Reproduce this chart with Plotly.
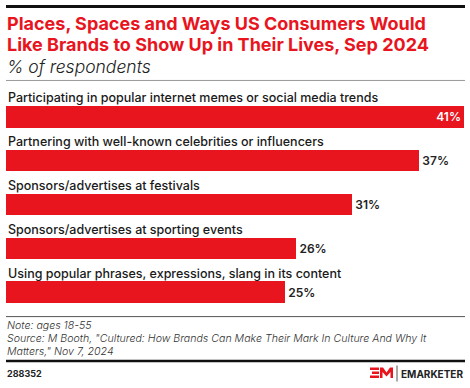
import plotly.graph_objects as go

categories = [
    "Participating in popular internet memes or social media trends",
    "Partnering with well-known celebrities or influencers",
    "Sponsors/advertises at festivals",
    "Sponsors/advertises at sporting events",
    "Using popular phrases, expressions, slang in its content",
]
values = [41, 37, 31, 26, 25]
value_labels = ["41%", "37%", "31%", "26%", "25%"]

title_lines = ["Places, Spaces and Ways US Consumers Would",
               "Like Brands to Show Up in Their Lives, Sep 2024"]
subtitle = "% of respondents"
note = "Note: ages 18-55"
source_lines = ['Source: M Booth, "Cultured: How Brands Can Make Their Mark In Culture And Why It',
                'Matters," Nov 7, 2024']
chart_id = "288352"

W, H = 470, 388
RED = "#e8141e"
FONT = "Inter"

# plot area in pixels
PL, PR = 6, 464
PT, PB = 95.06, 314.4

ypos = list(range(len(categories)))
positions = ["inside" if v == max(values) else "outside" for v in values]
text_colors = ["white" if p == "inside" else "#222222" for p in positions]

fig = go.Figure()
fig.add_trace(go.Bar(
    x=values, y=ypos, orientation="h",
    marker=dict(color=RED, line=dict(width=0)),
    width=0.49,
    text=value_labels, textposition=positions,
    insidetextanchor="end",
    textfont=dict(family=FONT, size=12, color=text_colors, weight=600),
    cliponaxis=False, hoverinfo="skip",
))

fig.update_layout(
    width=W, height=H,
    margin=dict(l=PL, r=W - PR, t=PT, b=H - PB, pad=0),
    paper_bgcolor="white", plot_bgcolor="white",
    showlegend=False, bargap=0,
    xaxis=dict(range=[0, 41], visible=False, fixedrange=True),
    yaxis=dict(range=[4.5, -0.5], visible=False, fixedrange=True),
    font=dict(family=FONT),
)

def fx(px):
    return (px - PL) / (PR - PL)

def fy(py):
    return (PB - py) / (PB - PT)

anns = []
for i, c in enumerate(categories):
    anns.append(dict(x=0, y=i - 0.435, xref="x", yref="y", text=c, showarrow=False,
                     xanchor="left", yanchor="middle",
                     font=dict(family=FONT, size=12.5, color="#1a1a1a", weight=500)))

def ptext(x, y, text, size, color, weight=400, style="normal", xanchor="left"):
    anns.append(dict(x=fx(x), y=fy(y), xref="paper", yref="paper", text=text,
                     showarrow=False, xanchor=xanchor, yanchor="middle",
                     font=dict(family=FONT, size=size, color=color, weight=weight, style=style)))

ptext(5, 23, title_lines[0], 18, RED, 700)
ptext(5, 44, title_lines[1], 18, RED, 700)
ptext(5, 67, subtitle, 17.5, "#222222", 300, "italic")
ptext(5, 326, note, 10.6, "#333333", 300, "italic")
ptext(5, 339, source_lines[0], 10.6, "#333333", 300, "italic")
ptext(5, 352, source_lines[1], 10.6, "#333333", 300, "italic")
ptext(5, 374, chart_id, 9, "#222222", 700)
ptext(465, 374, "EMARKETER", 10, "#222222", 700, xanchor="right")
fig.update_layout(annotations=anns)

def pline(x0, x1, y, color, width):
    return dict(type="line", xref="paper", yref="paper", x0=fx(x0), x1=fx(x1),
                y0=fy(y), y1=fy(y), line=dict(color=color, width=width))

shapes = [
    pline(6, 465, 6.5, "#111111", 3),
    pline(6, 465, 80.5, "#999999", 1),
    pline(6, 465, 317, "#555555", 1),
    pline(6, 465, 361.5, "#111111", 2.5),
    dict(type="line", xref="paper", yref="paper", x0=fx(397), x1=fx(397),
         y0=fy(366), y1=fy(382), line=dict(color="#555555", width=1)),
]

def ppath(pts):
    d = "M " + " L ".join(f"{fx(x)},{fy(y)}" for x, y in pts) + " Z"
    return dict(type="path", xref="paper", yref="paper", path=d,
                fillcolor=RED, line=dict(width=0))

shapes += [
    ppath([(370, 368), (379, 368), (379, 370.5), (370, 370.5)]),
    ppath([(372, 372), (379, 372), (379, 374.5), (372, 374.5)]),
    ppath([(370, 376), (379, 376), (379, 378.5), (370, 378.5)]),
    ppath([(380, 378.5), (380, 368), (383, 368), (386.5, 373), (390, 368), (393, 368),
           (393, 378.5), (390.5, 378.5), (390.5, 372.5), (386.5, 377), (382.5, 372.5), (382.5, 378.5)]),
]
fig.update_layout(shapes=shapes)

fig.write_html("out.html", config={"displayModeBar": False, "staticPlot": True},
               post_script="document.body.style.margin='0';")
